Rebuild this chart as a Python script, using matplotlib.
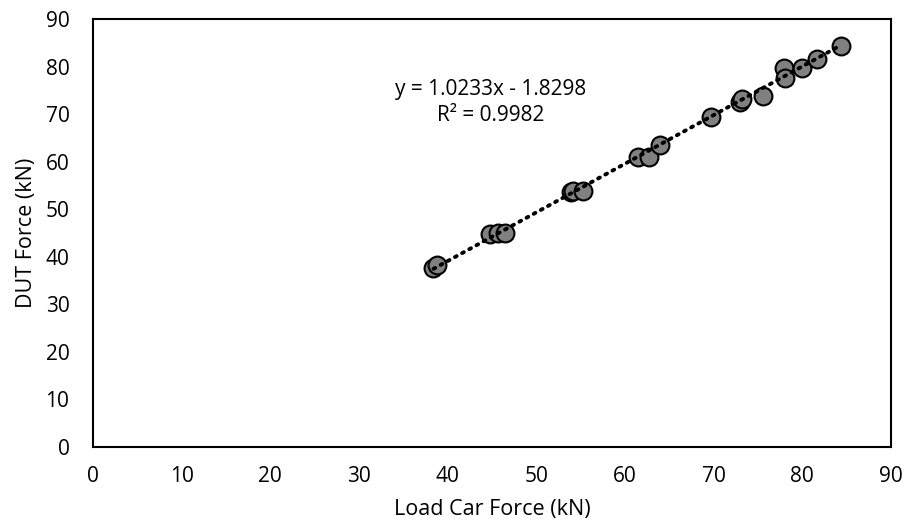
import matplotlib
matplotlib.use("Agg")
import matplotlib.pyplot as plt
import numpy as np

load_car = [38.4, 38.75, 44.8, 45.7, 46.5, 53.9, 54.1, 55.3, 61.5, 62.7, 63.9,
            69.7, 72.97, 73.2, 75.6, 77.9, 78.0, 80.0, 81.7, 84.4]
dut = [37.6, 38.3, 44.7, 44.9, 45.1, 53.6, 53.8, 53.9, 61.0, 61.0, 63.5,
       69.3, 72.6, 73.1, 73.9, 79.8, 77.5, 79.8, 81.5, 84.4]
slope, intercept = 1.0233, -1.8298
r2 = 0.9982
x_ticks = list(range(0, 91, 10))
y_ticks = list(range(0, 91, 10))

plt.rcParams['font.family'] = ['Open Sans', 'DejaVu Sans']

fig = plt.figure(figsize=(9.06, 5.31), dpi=100)
ax = fig.add_axes([93/906, 1 - 447/531, (891-93)/906, (447-19)/531])

ax.scatter(load_car, dut, s=165, facecolor='#808080', edgecolor='black',
           linewidth=1.5, zorder=2)
xs = np.array([min(load_car), max(load_car)])
ax.plot(xs, slope*xs + intercept, color='black', linestyle=(0, (0.5, 1.6)),
        linewidth=2.8, dash_capstyle='round', zorder=3)

ax.text(44.8, 72.4, f"y = {slope:.4f}x - {abs(intercept):.4f}\nR² = {r2:.4f}",
        ha='center', va='center', fontsize=15, linespacing=1.3)

ax.set_xlim(0, 90)
ax.set_ylim(0, 90)
ax.set_xticks(x_ticks)
ax.set_yticks(y_ticks)
ax.tick_params(length=0, labelsize=15)
ax.tick_params(axis='x', pad=14)
ax.tick_params(axis='y', pad=17)
for s in ax.spines.values():
    s.set_linewidth(1.5)
ax.set_xlabel("Load Car Force (kN)", fontsize=15.5, labelpad=8)
ax.set_ylabel("DUT Force (kN)", fontsize=15.5, labelpad=6)

fig.savefig("out.png", dpi=100)
